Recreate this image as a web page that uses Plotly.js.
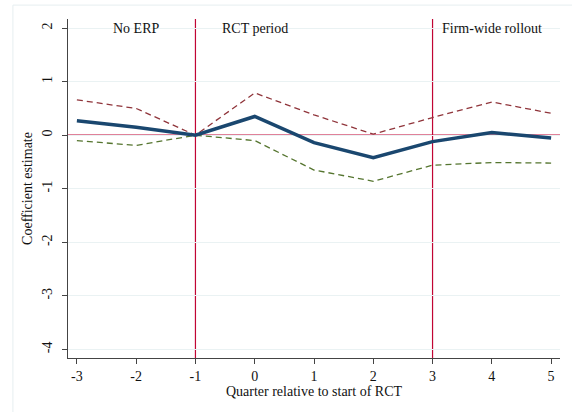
<!DOCTYPE html>
<html>
<head>
<meta charset="utf-8">
<script src="https://cdn.plot.ly/plotly-3.0.1.min.js"></script>
<style>html,body{margin:0;padding:0;background:#fff;}#chart{width:572px;height:412px;}</style>
</head>
<body>
<div id="chart"></div>
<script>
const quarters = [-3, -2, -1, 0, 1, 2, 3, 4, 5];
const estimate = [0.27, 0.15, 0.0, 0.35, -0.14, -0.42, -0.12, 0.05, -0.05];
const upperCI = [0.66, 0.50, 0.0, 0.79, 0.38, 0.02, 0.33, 0.62, 0.41];
const lowerCI = [-0.10, -0.19, 0.0, -0.10, -0.65, -0.86, -0.56, -0.51, -0.52];
const yTicks = [-4, -3, -2, -1, 0, 1, 2];
const periodLabels = ["No ERP", "RCT period", "Firm-wide rollout"];
const periodLabelX = [-2, 0, 4];
const eventLines = [-1, 3];

const serif = "Liberation Serif, Times New Roman, serif";
const red = "#c10534";

const traces = [
  {x: quarters, y: upperCI, mode: "lines", line: {color: "#90353b", width: 1.3, dash: "6px,4px"}, hoverinfo: "skip"},
  {x: quarters, y: lowerCI, mode: "lines", line: {color: "#55752f", width: 1.3, dash: "6px,4px"}, hoverinfo: "skip"},
  {x: quarters, y: estimate, mode: "lines", line: {color: "#1a476f", width: 3.5}, hoverinfo: "skip"}
];

const shapes = [
  {type: "rect", xref: "paper", yref: "paper", x0: -0.112, x1: 1.3, y0: -0.4, y1: 1.041,
   line: {color: "#e6eef0", width: 1}, fillcolor: "rgba(0,0,0,0)", layer: "below"},
  {type: "line", xref: "paper", yref: "y", x0: 0, x1: 1, y0: 0, y1: 0, line: {color: red, width: 1.2}, layer: "below"}
];
eventLines.forEach(v => shapes.push({type: "line", xref: "x", yref: "paper", x0: v, x1: v, y0: 0, y1: 1,
  line: {color: red, width: 1.2}, layer: "below"}));

const annotations = periodLabels.map((t, i) => ({
  x: periodLabelX[i], y: 2, xref: "x", yref: "y", text: t, showarrow: false,
  font: {family: serif, size: 14, color: "#111"}, xanchor: "center", yanchor: "middle"
}));

const layout = {
  width: 572, height: 412,
  margin: {l: 68, r: 12, t: 19, b: 54},
  paper_bgcolor: "#ffffff", plot_bgcolor: "#ffffff",
  showlegend: false,
  font: {family: serif, size: 14, color: "#111"},
  xaxis: {
    range: [-3.15, 5.15], tickvals: quarters, ticktext: quarters.map(String),
    showgrid: false, zeroline: false, showline: true, linecolor: "#444", linewidth: 1,
    ticks: "outside", ticklen: 5, tickcolor: "#444", tickfont: {family: serif, size: 14},
    title: {text: "Quarter relative to start of RCT", font: {family: serif, size: 14}, standoff: 0}
  },
  yaxis: {
    range: [-4.16, 2.17], tickvals: yTicks, ticktext: yTicks.map(String), tickangle: -90,
    showgrid: true, gridcolor: "#eaf2f3", gridwidth: 1, zeroline: false,
    showline: true, linecolor: "#444", linewidth: 1,
    ticks: "outside", ticklen: 5, tickcolor: "#444", tickfont: {family: serif, size: 14},
    ticklabelstandoff: 4,
    title: {text: "Coefficient estimate", font: {family: serif, size: 14}, standoff: 4}
  },
  shapes: shapes,
  annotations: annotations
};

Plotly.newPlot("chart", traces, layout, {displayModeBar: false, staticPlot: true});
</script>
</body>
</html>
